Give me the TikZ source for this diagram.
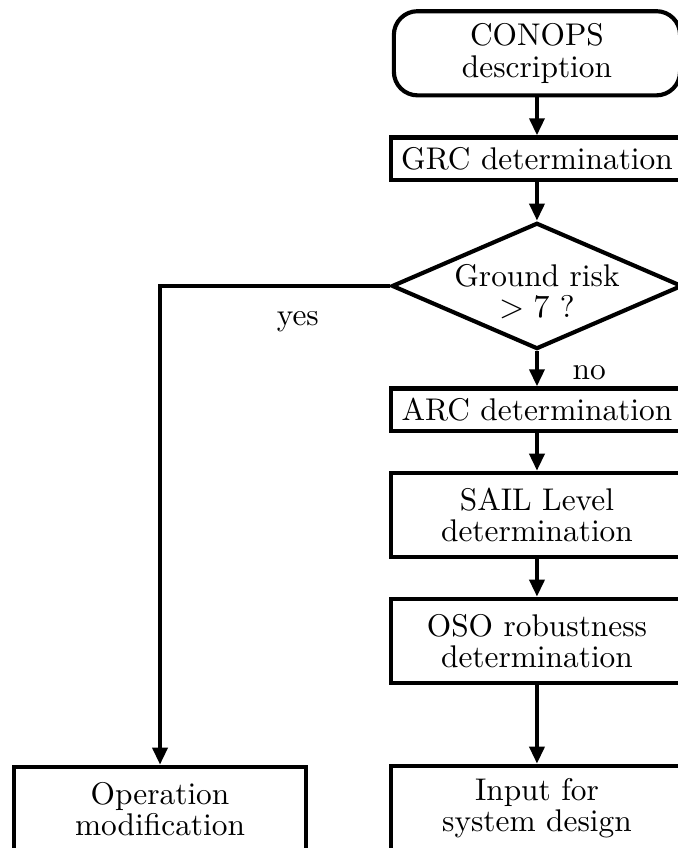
\documentclass[tikz,border=0pt]{standalone}
\usetikzlibrary{shapes.geometric,arrows.meta}
\begin{document}
\begin{tikzpicture}[line width=1.4pt, font=\fontsize{10.6}{10.65}\selectfont,
  main/.style = {draw, rectangle, minimum width=3.47cm, minimum height=1cm, align=center},
  flat/.style = {main, minimum height=0.5cm},
  term/.style = {main, rounded corners=8pt, minimum width=3.4cm},
  decision/.style = {draw, diamond, shape aspect=2.3, inner xsep=0pt, inner ysep=-2pt, minimum width=3.45cm, minimum height=1.5cm, align=center, text height=21.6pt, text depth=0pt},
  >={Triangle[width=5pt,length=5.8pt]}]
  \useasboundingbox (0,0) rectangle (8.054,-10.074);
  \clip (0,0) rectangle (8.054,-10.074);
  \node[term] (1) at (6.379,-0.633) {CONOPS\\description};
  \node[flat] (2) at (6.379,-1.886) {GRC determination};
  \node[decision] (3) at (6.379,-3.397) {Ground risk\\$>7$ ?};
  \node[flat] (4) at (6.379,-4.870) {ARC determination};
  \node[main] (5) at (6.379,-6.118) {SAIL Level\\determination};
  \node[main] (6) at (6.379,-7.614) {OSO robustness\\determination};
  \node[main] (7) at (6.379,-9.598) {Input for\\system design};
  \node[main] (8) at (1.901,-9.610) {Operation\\modification};
  \draw[->] (1) to (2);
  \draw[->] (2) to (3);
  \draw[->] (3) to node[pos=0.6, right=8pt] {no} (4);
  \draw[->] (3) -| node[pos=0.2, below=4.5pt] {yes} (8);
  \draw[->] (4) to (5);
  \draw[->] (5) to (6);
  \draw[->] (6) to (7);
\end{tikzpicture}
\end{document}
